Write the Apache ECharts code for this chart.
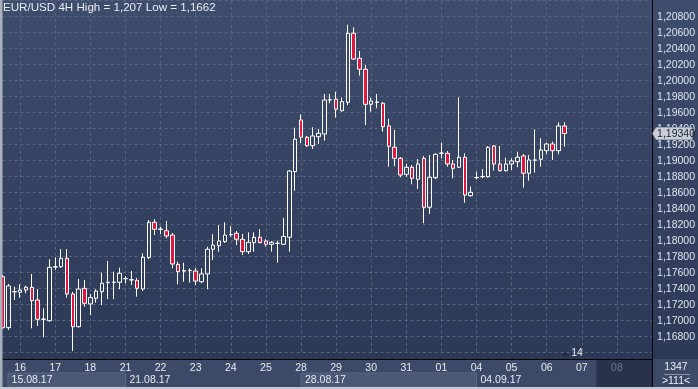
<!DOCTYPE html>
<html><head><meta charset="utf-8">
<script src="https://cdn.jsdelivr.net/npm/echarts@6/dist/echarts.min.js"></script>
<style>html,body{margin:0;padding:0;background:#2e3b58;}#c{width:698px;height:389px;}</style>
</head><body><div id="c"></div>
<script>
// ---- data ----
const titleText = 'EUR/USD 4H High = 1,207 Low = 1,1662';
const firstDay = '15';
const firstDayHours = ['12', '16', '20'];
const dayLabels = ['16','17','18','21','22','23','24','25','28','29','30','31','01','04','05','06','07','08'];
const hours = ['00', '04', '08', '12', '16', '20'];
const futureDay = '08';
const weekLabels = { '15 12': '15.08.17', '21 00': '21.08.17', '28 00': '28.08.17', '04 00': '04.09.17' };

const open = [1.17550,1.16913,1.17360,1.17355,1.17384,1.17418,1.17259,1.17018,1.17000,1.17670,
1.17675,1.17780,1.17334,1.16925,1.17405,1.17209,1.17280,1.17363,1.17475,1.17480,
1.17480,1.17525,1.17509,1.17505,1.17396,1.17790,1.18230,1.18143,1.18125,1.18071,
1.17705,1.17620,1.17625,1.17621,1.17488,1.17584,1.17893,1.17938,1.17988,1.18075,
1.18093,1.18018,1.17863,1.17975,1.18043,1.17996,1.17955,1.17966,1.17955,1.18043,
1.18863,1.19509,1.19293,1.19188,1.19300,1.19334,1.19759,1.19768,1.19625,1.19730,
1.20593,1.20280,1.20143,1.19705,1.19730,1.19718,1.19434,1.19169,1.19030,1.18830,
1.18918,1.18768,1.19030,1.18418,1.18788,1.19093,1.19093,1.18959,1.18918,1.19043,
1.18563,1.18788,1.18800,1.18800,1.19184,1.18959,1.18875,1.18959,1.18988,1.19059,
1.18843,1.19006,1.19018,1.19125,1.19209,1.19125,1.19434];
const close = [1.16913,1.17434,1.17365,1.17384,1.17418,1.17250,1.17018,1.17021,1.17668,1.17675,
1.17780,1.17334,1.16925,1.17396,1.17218,1.17288,1.17371,1.17468,1.17480,1.17482,
1.17593,1.17528,1.17512,1.17405,1.17793,1.18230,1.18143,1.18146,1.18059,1.17709,
1.17613,1.17625,1.17628,1.17496,1.17584,1.17893,1.17946,1.17996,1.18071,1.18078,
1.18018,1.17863,1.17980,1.18043,1.17975,1.17955,1.17980,1.17968,1.18053,1.18871,
1.19268,1.19293,1.19188,1.19309,1.19343,1.19759,1.19762,1.19643,1.19738,1.20593,
1.20271,1.20143,1.19705,1.19746,1.19733,1.19425,1.19180,1.19030,1.18821,1.18918,
1.18780,1.18959,1.18418,1.18793,1.19080,1.19096,1.18959,1.18905,1.19043,1.18571,
1.18605,1.18790,1.18803,1.19168,1.18959,1.18875,1.18959,1.18996,1.19043,1.18843,
1.19009,1.19009,1.19134,1.19209,1.19125,1.19434,1.19340];
const low = [1.16896,1.16884,1.17259,1.17288,1.17343,1.16905,1.16934,1.16793,1.16988,1.17634,
1.17659,1.17288,1.16620,1.16915,1.17175,1.17071,1.17225,1.17196,1.17271,1.17271,
1.17393,1.17468,1.17446,1.17300,1.17371,1.17768,1.18071,1.18084,1.18030,1.17655,
1.17455,1.17488,1.17475,1.17446,1.17468,1.17393,1.17759,1.17863,1.17971,1.18050,
1.17946,1.17821,1.17834,1.17863,1.17968,1.17925,1.17863,1.17725,1.17946,1.17863,
1.18625,1.19218,1.19171,1.19146,1.19209,1.19250,1.19718,1.19538,1.19615,1.19696,
1.20259,1.20063,1.19446,1.19613,1.19655,1.19363,1.18925,1.18931,1.18793,1.18800,
1.18705,1.18646,1.18218,1.18334,1.18768,1.19030,1.18925,1.18780,1.18909,1.18475,
1.18550,1.18768,1.18780,1.18790,1.18875,1.18865,1.18865,1.18884,1.18918,1.18663,
1.18750,1.18850,1.18925,1.19080,1.19009,1.19080,1.19175];
const high = [1.17571,1.17459,1.17425,1.17455,1.17438,1.17584,1.17396,1.17155,1.17768,1.17793,
1.17896,1.17896,1.17359,1.17521,1.17509,1.17334,1.17393,1.17600,1.17746,1.17613,
1.17663,1.17559,1.17621,1.17534,1.17843,1.18259,1.18268,1.18175,1.18246,1.18096,
1.17738,1.17725,1.17655,1.17659,1.17655,1.17925,1.18080,1.18196,1.18230,1.18184,
1.18121,1.18084,1.18105,1.18105,1.18146,1.18018,1.17996,1.18000,1.18284,1.18884,
1.19413,1.19580,1.19309,1.19418,1.19396,1.19834,1.19834,1.19863,1.19788,1.20700,
1.20668,1.20371,1.20196,1.19788,1.19834,1.19734,1.19524,1.19384,1.19046,1.18959,
1.18946,1.19021,1.19059,1.19071,1.19093,1.19225,1.19121,1.19009,1.19793,1.19093,
1.18675,1.18863,1.18896,1.19184,1.19196,1.19184,1.19038,1.19030,1.19113,1.19084,
1.19071,1.19393,1.19280,1.19225,1.19238,1.19480,1.19480];
const lastPrice = 1.19340;
const yMin = 1.166, yMax = 1.210, yStep = 0.002;
const barsAheadText = '14';
const counterTop = '1347', counterBottom = '>111<';

// ---- build ----
const categories = firstDayHours.map(h => firstDay + ' ' + h);
dayLabels.forEach(d => hours.forEach(h => categories.push(d + ' ' + h)));
categories.push('');
const candles = open.map((o, i) => [o, close[i], low[i], high[i]]);
const fmt = v => v.toFixed(5).replace('.', ',');
const FONT = 'Liberation Sans Narrow, Liberation Sans, Arial, sans-serif';
const isDayStart = v => v.endsWith(' 00');

const chart = echarts.init(document.getElementById('c'), null, { renderer: 'canvas' });
chart.setOption({
  animation: false,
  backgroundColor: new echarts.graphic.LinearGradient(0, 0, 0, 1, [
    { offset: 0, color: '#3f4d6c' }, { offset: 1, color: '#2a3755' }]),
  title: { text: titleText, left: 3, top: 1.5, padding: 0,
    textStyle: { color: '#e8ecf3', fontSize: 11.6, fontWeight: 'normal', fontFamily: FONT } },
  grid: { left: 2.6, right: 43.8, top: 0.7, bottom: 36.3 },
  xAxis: [{
    type: 'category', data: categories, boundaryGap: false, position: 'bottom', offset: 6.3,
    axisLine: { show: true, lineStyle: { color: '#000000', width: 1 } },
    axisTick: { show: false },
    axisLabel: { interval: (i, v) => isDayStart(v), formatter: v => v.split(' ')[0], margin: 4,
      fontSize: 10.5, fontFamily: FONT,
      color: v => (v === futureDay + ' 00' ? '#6c7a97' : '#e6ebf3') },
    splitLine: { show: true, interval: (i, v) => isDayStart(v),
      lineStyle: { color: '#56647f', type: [3, 3], width: 1 } }
  }, {
    type: 'category', data: categories, boundaryGap: false, position: 'bottom', offset: 6.3,
    axisLine: { show: false }, axisTick: { show: false }, splitLine: { show: false },
    axisLabel: { interval: (i, v) => v in weekLabels,
      formatter: v => (v === categories[0] ? '{f|' + weekLabels[v] + '}' : '{n|' + weekLabels[v] + '}'),
      margin: 16, align: 'left', fontSize: 10.5, fontFamily: FONT, color: '#e6ebf3',
      rich: { f: { padding: [0, 0, 0, 9], fontSize: 10.5, fontFamily: FONT, color: '#e6ebf3' },
              n: { padding: [0, 0, 0, 4], fontSize: 10.5, fontFamily: FONT, color: '#e6ebf3' } } }
  }],
  yAxis: {
    type: 'value', position: 'right', min: yMin, max: yMax, interval: yStep,
    axisLine: { show: true, lineStyle: { color: '#000000', width: 1 } },
    axisTick: { show: false },
    axisLabel: { formatter: fmt, margin: 5, fontSize: 10.5, fontFamily: FONT, color: '#dfe5ef',
      showMinLabel: false, showMaxLabel: false },
    splitLine: { show: true, lineStyle: { color: '#56647f', type: [3, 3], width: 1 } }
  },
  series: [{
    type: 'candlestick', data: candles, barWidth: 4, clip: true,
    itemStyle: { color: 'rgba(0,0,0,0)', color0: '#e3173e', borderColor: '#ffffff', borderColor0: '#ffffff', borderWidth: 1 }
  }]
});

// decorations placed through the axis scales
const x0 = chart.convertToPixel({ xAxisIndex: 0 }, 0);
const step = chart.convertToPixel({ xAxisIndex: 0 }, 1) - x0;
const xAt = k => x0 + k * step;
const axisY = chart.convertToPixel({ yAxisIndex: 0 }, yMin) + 6.3;
const rightX = xAt(categories.length - 1);
const priceY = chart.convertToPixel({ gridIndex: 0 }, [0, lastPrice])[1];
const boxTop = axisY + 14, boxBot = 387;
const lastIdx = open.length - 1;
chart.setOption({ graphic: [
  { type: 'rect', z: -10, shape: { x: 0, y: axisY, width: 698, height: 389 - axisY }, style: { fill: '#3c4967' } },
  { type: 'rect', z: -9, shape: { x: xAt(1) - 0.5, y: boxTop, width: xAt(21) - xAt(1) + 0.5, height: boxBot - boxTop },
    style: { fill: '#4a5775', stroke: '#5a6785', lineWidth: 1 } },
  { type: 'rect', z: -9, shape: { x: xAt(51), y: boxTop, width: xAt(81) - xAt(51), height: boxBot - boxTop },
    style: { fill: '#4a5775', stroke: '#5a6785', lineWidth: 1 } },
  { type: 'rect', z: -9, shape: { x: xAt(101.5), y: axisY + 1, width: rightX - xAt(101.5), height: boxBot - axisY - 1 },
    style: { fill: '#28324c' } },
  { type: 'line', z: 20, shape: { x1: rightX + 0.5, y1: 0, x2: rightX + 0.5, y2: 389 }, style: { stroke: '#000000', lineWidth: 1 } },
  { type: 'rect', z: 20, shape: { x: 0, y: 0, width: 2.5, height: 389 }, style: { fill: '#aab1bd' } },
  { type: 'rect', z: 20, shape: { x: 0, y: 387, width: 698, height: 2 }, style: { fill: '#c4c9d1' } },
  { type: 'text', z: 20, style: { text: counterTop, x: 676, y: 367, align: 'center', verticalAlign: 'middle',
    fill: '#eef1f6', font: '10.5px ' + FONT } },
  { type: 'line', z: 20, shape: { x1: 664, y1: 374.5, x2: 690, y2: 374.5 }, style: { stroke: '#8893a8', lineWidth: 1 } },
  { type: 'text', z: 20, style: { text: counterBottom, x: 676, y: 381, align: 'center', verticalAlign: 'middle',
    fill: '#eef1f6', font: '10.5px ' + FONT } },
  { type: 'polygon', z: 20, shape: { points: [[xAt(lastIdx) + 1, axisY - 7], [xAt(lastIdx) - 3, axisY - 3], [xAt(lastIdx) + 5, axisY - 3]] },
    style: { fill: '#1f2840' } },
  { type: 'text', z: 20, style: { text: barsAheadText, x: xAt(lastIdx) + 7, y: axisY - 6, align: 'left', verticalAlign: 'middle',
    fill: '#e6ebf3', font: '10.5px ' + FONT } },
  { type: 'polygon', z: 30, shape: { points: [[rightX + 0.5, priceY], [rightX + 4, priceY - 6], [rightX + 40, priceY - 6],
      [rightX + 40, priceY + 6], [rightX + 4, priceY + 6]] },
    style: { fill: '#c9ced7', stroke: '#9ba4b4', lineWidth: 1 } },
  { type: 'text', z: 31, style: { text: fmt(lastPrice), x: rightX + 5, y: priceY + 0.5, align: 'left', verticalAlign: 'middle',
    fill: '#18202f', font: '10.5px ' + FONT } }
]});
</script></body></html>
